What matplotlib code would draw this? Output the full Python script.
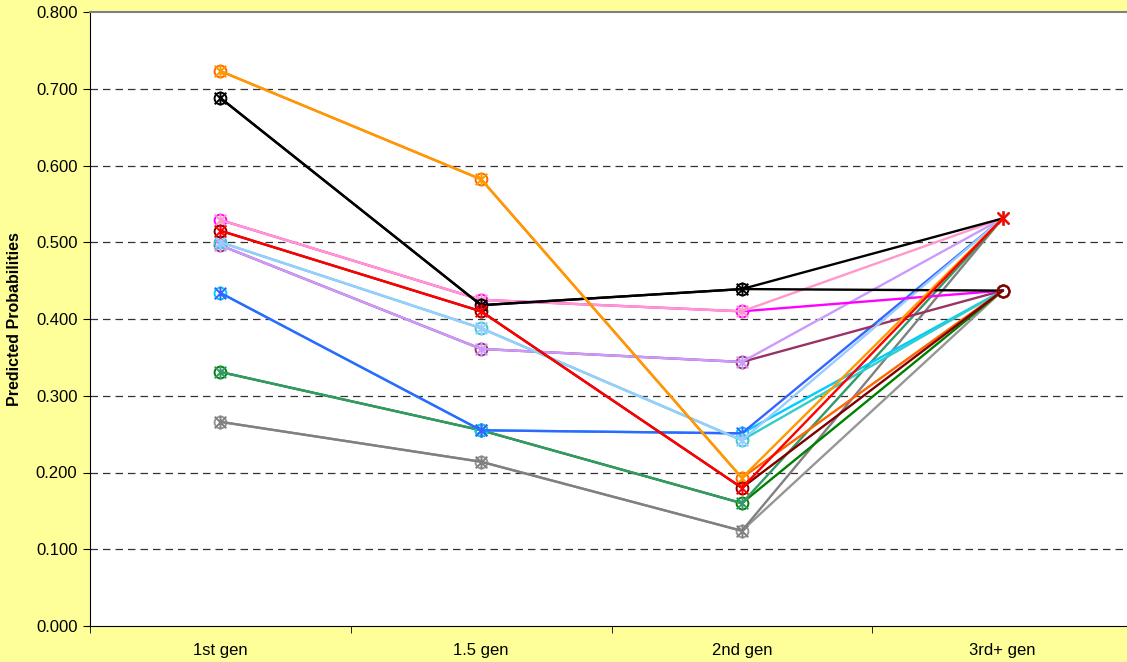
import matplotlib
matplotlib.use('Agg')
import matplotlib.pyplot as plt
from matplotlib.path import Path

plt.rcParams['font.family'] = ['Liberation Sans', 'DejaVu Sans']

categories = ['1st gen', '1.5 gen', '2nd gen', '3rd+ gen']

# first three generations per group, then the 3rd+ reference values
orange = [0.723, 0.582, 0.193]
black = [0.688, 0.418, 0.439]
pink = [0.529, 0.425, 0.410]
lightblue = [0.500, 0.388, 0.242]
purple = [0.496, 0.361, 0.344]
blue = [0.434, 0.255, 0.251]
green = [0.331, 0.255, 0.160]
gray = [0.266, 0.214, 0.124]
red = [0.515, 0.410, 0.180]
ref_star = 0.531
ref_circle = 0.437

# (values, star series colour, circle series colour)
groups = [
    (gray, '#808080', '#969696'),
    (green, '#339966', '#008000'),
    (blue, '#3366FF', '#00CCFF'),
    (purple, '#CC99FF', '#993366'),
    (lightblue, '#99CCFF', '#33CCCC'),
    (pink, '#FF99CC', '#FF00FF'),
    (black, '#000000', '#000000'),
    (orange, '#FF9900', '#FF6600'),
    (red, '#FF0000', '#800000'),
]

# excel style star: an x with a vertical bar
star = Path([(-1, -1), (1, 1), (-1, 1), (1, -1), (0, -1.2), (0, 1.2)],
            [Path.MOVETO, Path.LINETO] * 3)

fig = plt.figure(figsize=(11.27, 6.62), dpi=100)
fig.patch.set_facecolor('#FFFF99')
W, H = 1127, 662
ax = fig.add_axes([90 / W, 36 / H, 1043 / W, 614 / H])
ax.set_facecolor('white')

x = list(range(len(categories)))
for vals, c_star, c_circ in groups:
    ax.plot(x, vals + [ref_circle], color=c_circ, lw=1.7, marker='o', ms=8.5,
            mfc='none', mec=c_circ, mew=1.4, zorder=3)
    ax.plot(x, vals + [ref_star], color=c_star, lw=1.7, marker=star, ms=10,
            mfc='none', mec=c_star, mew=1.4, zorder=3)

ax.set_xlim(-0.5, 3.5)
ax.set_ylim(0, 0.8)
ax.set_yticks([i / 10 for i in range(9)])
ax.set_yticklabels(['%.3f' % (i / 10) for i in range(9)], fontsize=12)
for y in range(1, 8):
    ax.axhline(y / 10, color='#333333', lw=0.9, dashes=(6, 4), zorder=1)

ax.set_xticks(x)
ax.set_xticklabels(categories, fontsize=12)
ax.set_xticks([-0.5, 0.5, 1.5, 2.5, 3.5], minor=True)
ax.tick_params(axis='x', which='major', length=0, pad=12)
ax.tick_params(axis='x', which='minor', length=5, direction='out', color='black')
ax.tick_params(axis='y', length=5, direction='out', pad=4)

ax.set_ylabel('Predicted Probabilities', fontsize=11.5, fontweight='bold', labelpad=10)

ax.spines['right'].set_visible(False)
ax.spines['top'].set_color('#808080')
ax.spines['top'].set_linewidth(1.5)
ax.spines['left'].set_color('black')
ax.spines['bottom'].set_color('black')

fig.savefig('out.png', dpi=100, facecolor=fig.get_facecolor())
